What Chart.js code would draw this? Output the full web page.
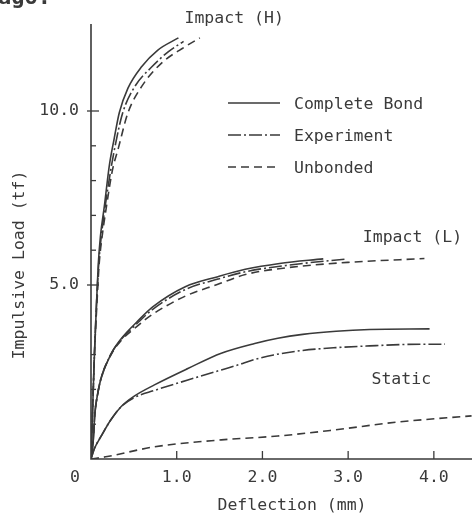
<!DOCTYPE html>
<html>
<head>
<meta charset="utf-8">
<script src="https://cdn.jsdelivr.net/npm/chart.js@4"></script>
<style>
html,body{margin:0;padding:0;background:#fff;}
#wrap{width:472px;height:517px;position:relative;}
</style>
</head>
<body>
<div id="wrap"><canvas id="c" width="472" height="517"></canvas></div>
<script>
// ---- data (deflection mm, load tf) ----
const impactH_complete = [[0,0],[0.02,1.5],[0.04,3.0],[0.065,4.5],[0.085,5.6],[0.11,6.4],[0.155,7.25],[0.215,8.45],[0.27,9.2],[0.33,9.95],[0.43,10.65],[0.59,11.27],[0.78,11.75],[1.02,12.1]];
const impactH_experiment = [[0,0],[0.02,1.5],[0.04,3.0],[0.065,4.5],[0.09,5.6],[0.12,6.4],[0.165,7.25],[0.23,8.3],[0.29,9.1],[0.37,9.95],[0.51,10.7],[0.71,11.27],[0.9,11.7],[1.08,12.0]];
const impactH_unbonded = [[0,0],[0.02,1.5],[0.04,3.0],[0.07,4.5],[0.095,5.6],[0.13,6.4],[0.18,7.25],[0.25,8.3],[0.32,8.94],[0.43,9.94],[0.59,10.7],[0.82,11.37],[1.1,11.85],[1.27,12.1]];

const impactL_complete = [[0,0],[0.025,0.5],[0.045,1.3],[0.08,1.9],[0.115,2.3],[0.23,3.0],[0.35,3.45],[0.54,3.95],[0.72,4.37],[1.1,4.95],[1.48,5.24],[1.8,5.45],[2.2,5.62],[2.71,5.75]];
const impactL_experiment = [[0,0],[0.025,0.5],[0.045,1.3],[0.08,1.9],[0.115,2.3],[0.23,3.0],[0.35,3.43],[0.54,3.9],[0.72,4.3],[1.1,4.87],[1.48,5.17],[1.8,5.38],[2.3,5.57],[2.99,5.75]];
const impactL_unbonded = [[0,0],[0.025,0.5],[0.045,1.3],[0.08,1.9],[0.115,2.3],[0.23,2.98],[0.35,3.4],[0.54,3.82],[0.72,4.16],[1.1,4.68],[1.48,5.02],[1.8,5.3],[2.3,5.5],[3.0,5.65],[3.89,5.76]];

const static_complete = [[0,0],[0.04,0.3],[0.115,0.64],[0.23,1.12],[0.35,1.5],[0.5,1.8],[0.74,2.13],[1.13,2.6],[1.52,3.04],[1.91,3.32],[2.18,3.47],[2.47,3.58],[2.86,3.67],[3.25,3.72],[3.95,3.74]];
const static_experiment = [[0,0],[0.04,0.3],[0.115,0.64],[0.23,1.12],[0.35,1.5],[0.5,1.76],[0.74,1.97],[1.13,2.27],[1.52,2.56],[1.71,2.7],[1.91,2.86],[2.13,2.99],[2.47,3.12],[2.86,3.2],[3.25,3.25],[3.64,3.29],[4.13,3.3]];
const static_unbonded = [[0,0],[0.19,0.07],[0.74,0.35],[1.52,0.55],[2.18,0.66],[2.79,0.82],[3.57,1.06],[4.44,1.24]];

const xTickValues = [1, 2, 3, 4];
const xTickLabels = ["1.0", "2.0", "3.0", "4.0"];
const yMajorValues = [5, 10];
const yMajorLabels = ["5.0", "10.0"];
const yMinorValues = [1, 2, 3, 6, 7, 8, 9];
const originLabel = "0";
const xTitle = "Deflection (mm)";
const yTitle = "Impulsive Load (tf)";
const legendLabels = ["Complete Bond", "Experiment", "Unbonded"];
const annotations = [
  {text: "Impact (H)", x: 1.67, y: 12.65},
  {text: "Impact (L)", x: 3.75, y: 6.37},
  {text: "Static", x: 3.62, y: 2.27}
];
const pageFragment = "ago.";

// ---- styles ----
const INK = "#3a3a3a";
const DASHES = { complete: [], experiment: [13, 3, 2, 3], unbonded: [8, 5] };
const FONT = '16.5px "DejaVu Sans Mono", monospace';

function pts(a){ return a.map(p => ({x: p[0], y: p[1]})); }
function ds(label, arr, kind){
  return {label, data: pts(arr), borderColor: INK, borderWidth: 1.6, borderDash: DASHES[kind],
    pointRadius: 0, showLine: true, fill: false, cubicInterpolationMode: 'monotone'};
}

const overlay = {
  id: 'overlay',
  afterDraw(chart){
    const ctx = chart.ctx, xs = chart.scales.x, ys = chart.scales.y;
    const a = chart.chartArea;
    ctx.save();
    ctx.strokeStyle = INK; ctx.fillStyle = INK; ctx.lineWidth = 1.6; ctx.setLineDash([]);
    // axes
    ctx.beginPath();
    ctx.moveTo(a.left, a.top); ctx.lineTo(a.left, a.bottom); ctx.lineTo(a.right, a.bottom);
    ctx.stroke();
    ctx.lineWidth = 1.3;
    // x ticks (inward)
    xTickValues.forEach(v => { const px = xs.getPixelForValue(v);
      ctx.beginPath(); ctx.moveTo(px, a.bottom); ctx.lineTo(px, a.bottom - 8); ctx.stroke(); });
    // y ticks
    yMajorValues.forEach(v => { const py = ys.getPixelForValue(v);
      ctx.beginPath(); ctx.moveTo(a.left - 4, py); ctx.lineTo(a.left + 8, py); ctx.stroke(); });
    yMinorValues.forEach(v => { const py = ys.getPixelForValue(v);
      ctx.beginPath(); ctx.moveTo(a.left, py); ctx.lineTo(a.left + 5, py); ctx.stroke(); });
    // tick labels
    ctx.font = FONT; ctx.textBaseline = 'middle';
    ctx.textAlign = 'center';
    xTickValues.forEach((v, i) => ctx.fillText(xTickLabels[i], xs.getPixelForValue(v), a.bottom + 19));
    ctx.fillText(originLabel, a.left - 16, a.bottom + 19);
    ctx.textAlign = 'right';
    yMajorValues.forEach((v, i) => ctx.fillText(yMajorLabels[i], a.left - 12, ys.getPixelForValue(v)));
    // titles
    ctx.textAlign = 'center';
    ctx.fillText(xTitle, 292, 506);
    ctx.save(); ctx.translate(20, 265); ctx.rotate(-Math.PI/2); ctx.fillText(yTitle, 0, 0); ctx.restore();
    // annotations
    annotations.forEach(t => {
      ctx.fillText(t.text, xs.getPixelForValue(t.x), Math.max(19, ys.getPixelForValue(t.y)));
    });
    // legend
    const kinds = ['complete', 'experiment', 'unbonded'];
    const rows = [105, 137, 169];
    ctx.textAlign = 'left';
    legendLabels.forEach((lab, i) => {
      ctx.setLineDash(DASHES[kinds[i]]); ctx.lineWidth = 1.6;
      ctx.beginPath(); ctx.moveTo(228, rows[i] - 2); ctx.lineTo(280, rows[i] - 2); ctx.stroke();
      ctx.setLineDash([]);
      ctx.fillText(lab, 294, rows[i]);
    });
    // cut-off page text at the top-left corner of the scan
    ctx.font = 'bold 22px "DejaVu Sans Mono", monospace';
    ctx.textBaseline = 'alphabetic';
    ctx.fillText(pageFragment, -2, 4);
    ctx.restore();
  }
};

new Chart(document.getElementById('c'), {
  type: 'scatter',
  data: { datasets: [
    ds('Impact H complete', impactH_complete, 'complete'),
    ds('Impact H experiment', impactH_experiment, 'experiment'),
    ds('Impact H unbonded', impactH_unbonded, 'unbonded'),
    ds('Impact L complete', impactL_complete, 'complete'),
    ds('Impact L experiment', impactL_experiment, 'experiment'),
    ds('Impact L unbonded', impactL_unbonded, 'unbonded'),
    ds('Static complete', static_complete, 'complete'),
    ds('Static experiment', static_experiment, 'experiment'),
    ds('Static unbonded', static_unbonded, 'unbonded')
  ]},
  options: {
    responsive: false, animation: false, devicePixelRatio: 1,
    layout: { padding: { left: 91, right: 0, top: 24, bottom: 58 } },
    plugins: { legend: { display: false }, tooltip: { enabled: false } },
    scales: {
      x: { type: 'linear', min: 0, max: 4.445, display: false },
      y: { type: 'linear', min: 0, max: 12.5, display: false }
    }
  },
  plugins: [overlay]
});
</script>
</body>
</html>
